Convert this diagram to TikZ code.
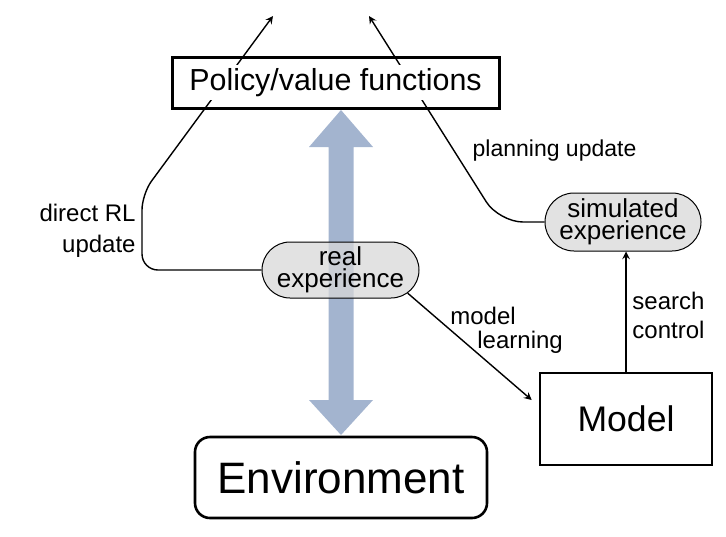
\documentclass[tikz,border=0pt]{standalone}
\usepackage{fontspec}
\setmainfont{Liberation Sans}
\usetikzlibrary{shapes.misc}
\definecolor{arrowblue}{RGB}{163,180,207}
\definecolor{expgray}{RGB}{216,216,216}

\begin{document}
\begin{tikzpicture}[x=0.5pt,y=-0.5pt,>=stealth,
  box/.style={draw, line width=1.3pt, inner sep=0pt},
  expbox/.style={rounded rectangle, draw, line width=0.5pt, fill=expgray, fill opacity=0.75, text opacity=1, minimum width=80.5pt, minimum height=28pt, inner sep=1pt, align=center, font=\fontsize{13}{11}\selectfont},
  lbl/.style={inner sep=0pt, font=\fontsize{12}{15}\selectfont},
  conn/.style={line width=0.7pt}]
\useasboundingbox (0,0) rectangle (726,536);
% two-way arrow between agent and world
\fill [arrowblue] (341,110) -- (373,147) -- (353.5,147) -- (353.5,400) -- (373,400) -- (341,435) -- (309,400) -- (328.5,400) -- (328.5,147) -- (309,147) -- cycle;
\node (pol) [box, line width=1.5pt, minimum width=163.5pt, minimum height=25.5pt] at (335.5,82.5) {};
\node (env) [box, rounded corners=7.5pt, minimum width=146pt, minimum height=40.5pt, font=\fontsize{22}{26}\selectfont] at (341,477.5) {Environment};
\node (model) [box, minimum width=86pt, minimum height=46pt, font=\fontsize{17.8}{20}\selectfont] at (626,419) {Model};
\node (real) [expbox] at (340.5,270) {real\\experience};
\node (sim) [expbox, minimum width=80pt, minimum height=29pt] at (623,222) {simulated\\experience};
\coordinate (rltip) at (273,16);
\coordinate (plantip) at (369,16);
% updates
\draw [conn, ->, rounded corners=8pt] (real.west) -- (142,270) -- (142,194) -- (rltip);
\draw [conn, ->, rounded corners=12pt] (sim.west) -- (499,222) -- (plantip);
\draw [conn, ->] (real.-19) -- ([shift={(-7,-19)}]model.west);
\draw [conn, ->] (model.north) -- (model.north |- sim.south);
\node (poltext) [fill=white, inner sep=1.5pt, font=\fontsize{15.2}{18}\selectfont] at (pol.center) {Policy/value functions};
% labels
\node (rllbl) [lbl, align=right, anchor=east, font=\fontsize{12}{15.5}\selectfont] at (136,231) {direct RL\\update};
\node (planlbl) [lbl, font=\fontsize{11.5}{14}\selectfont] at (554.5,151) {planning update};
\node (modellbl) [lbl, align=left, anchor=west, font=\fontsize{12}{12}\selectfont] at (450,330) {model\\\hspace{13.5pt}learning};
\node (searchlbl) [lbl, align=left, anchor=west, font=\fontsize{12}{14.5}\selectfont] at (632,315.5) {search\\control};
\end{tikzpicture}
\end{document}
